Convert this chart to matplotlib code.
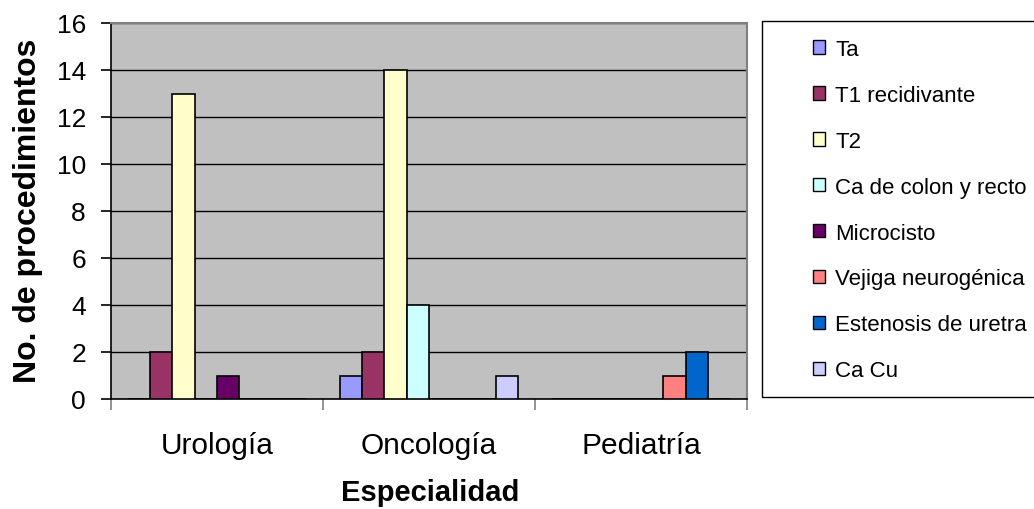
import numpy as np
import matplotlib
matplotlib.use("Agg")
import matplotlib.pyplot as plt
from matplotlib.patches import Patch, Rectangle

plt.rcParams['font.family'] = ['Liberation Sans', 'DejaVu Sans']

# procedures per specialty and diagnosis
especialidades = ["Urología", "Oncología", "Pediatría"]
series = ["Ta", "T1 recidivante", "T2", "Ca de colon y recto",
          "Microcisto", "Vejiga neurogénica", "Estenosis de uretra", "Ca Cu"]
ta = [0, 1, 0]
t1_recidivante = [2, 2, 0]
t2 = [13, 14, 0]
ca_colon_recto = [0, 4, 0]
microcisto = [1, 0, 0]
vejiga_neurogenica = [0, 0, 1]
estenosis_uretra = [0, 0, 2]
ca_cu = [0, 1, 0]
yticks = [0, 2, 4, 6, 8, 10, 12, 14, 16]

values = [ta, t1_recidivante, t2, ca_colon_recto, microcisto,
          vejiga_neurogenica, estenosis_uretra, ca_cu]
colors = ["#9999FF", "#993366", "#FFFFCC", "#CCFFFF",
          "#660066", "#FF8080", "#0066CC", "#CCCCFF"]

W, H = 1034, 510
fig = plt.figure(figsize=(W / 100, H / 100), dpi=100)
ax = fig.add_axes([111 / W, 110 / H, 636 / W, 376 / H])
ax.set_facecolor("#C0C0C0")

# excel-style clustered bars: 8 bars + 1.5 bar gap per category
w = 1 / 9.5
x = np.arange(len(especialidades))
for i, (vals, c) in enumerate(zip(values, colors)):
    ax.bar(x - 0.5 + (0.75 + i) * w, vals, width=w, align="edge",
           color=c, edgecolor="black", linewidth=1.2, zorder=3)

ax.set_xlim(-0.5, 2.5)
ax.set_ylim(0, 16)
ax.set_yticks(yticks)
ax.yaxis.grid(True, color="black", linewidth=1.0)
ax.set_axisbelow(True)

# category boundaries as ticks, names centered between them
ax.set_xticks([-0.5, 0.5, 1.5, 2.5])
ax.set_xticklabels([])
ax.set_xticks(x, minor=True)
ax.set_xticklabels(especialidades, minor=True, fontsize=21.5)
ax.tick_params(axis="x", which="major", length=8, color="#808080", width=1.2)
ax.tick_params(axis="x", which="minor", length=0, pad=23)
ax.tick_params(axis="y", length=7, width=1.2, labelsize=19, pad=11)

for s in ["top", "right"]:
    ax.spines[s].set_color("#808080")
    ax.spines[s].set_linewidth(1.5)
for s in ["left", "bottom"]:
    ax.spines[s].set_color("black")
    ax.spines[s].set_linewidth(1.2)

fig.text(430 / W, 1 - 493 / H, "Especialidad", fontsize=21, fontweight="bold",
         ha="center", va="center")
fig.text(28 / W, 1 - 211 / H, "No. de procedimientos", fontsize=23,
         fontweight="bold", rotation=90, ha="center", va="center")

# legend frame drawn separately so the entries can sit inset
fig.add_artist(Rectangle((762 / W, 1 - 398 / H), 290 / W, 376 / H,
                         transform=fig.transFigure, facecolor="white",
                         edgecolor="black", linewidth=1.0, zorder=1))
handles = [Patch(facecolor=c, edgecolor="black", linewidth=1.0) for c in colors]
leg = fig.legend(handles, series, loc="upper left",
                 bbox_to_anchor=(813 / W, 1 - 40 / H), frameon=False,
                 fontsize=16, borderpad=0, borderaxespad=0,
                 handlelength=0.55, handleheight=0.55, handletextpad=0.45,
                 labelspacing=1.12)
leg.set_zorder(2)

fig.savefig("out.png", dpi=100)
